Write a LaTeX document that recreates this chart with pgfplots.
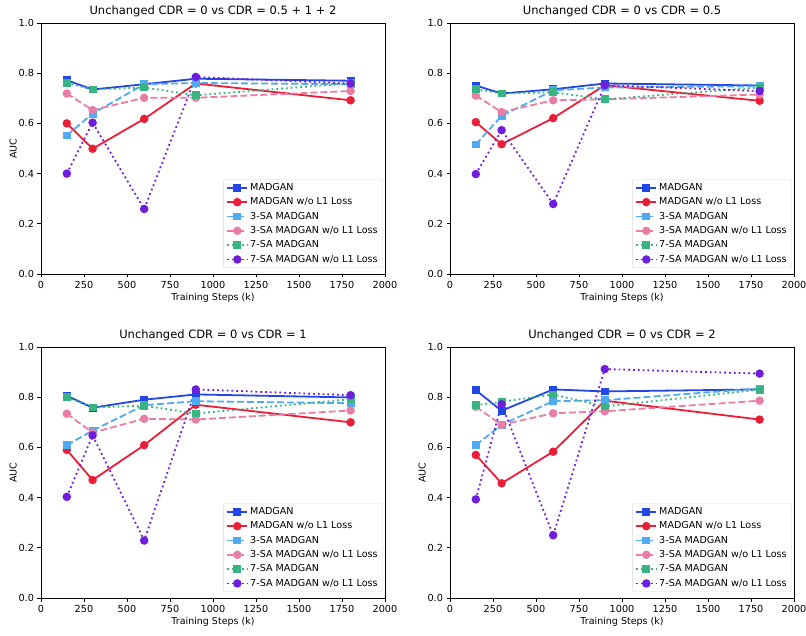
\documentclass[border=0pt]{standalone}
\usepackage{fontspec}
\setmainfont{DejaVu Sans}
\usepackage{pgfplots}
\usepackage{pgfplotstable}
\pgfplotsset{compat=1.18}

\definecolor{cA}{RGB}{35,70,230}
\definecolor{cB}{RGB}{235,30,55}
\definecolor{cC}{RGB}{80,170,240}
\definecolor{cD}{RGB}{232,125,165}
\definecolor{cE}{RGB}{55,180,130}
\definecolor{cF}{RGB}{110,30,220}

\pgfplotstableread{
x a b c d e f
150 0.772 0.600 0.552 0.719 0.761 0.400
300 0.735 0.499 0.639 0.653 0.735 0.603
600 0.756 0.618 0.756 0.702 0.743 0.259
900 0.778 0.759 0.761 0.702 0.712 0.785
1800 0.770 0.692 0.756 0.729 0.760 0.759
}\tA
\pgfplotstableread{
x a b c d e f
150 0.751 0.605 0.516 0.711 0.737 0.398
300 0.719 0.517 0.630 0.645 0.719 0.573
600 0.736 0.621 0.732 0.692 0.724 0.279
900 0.759 0.752 0.743 0.696 0.696 0.752
1800 0.751 0.690 0.748 0.715 0.743 0.729
}\tB
\pgfplotstableread{
x a b c d e f
150 0.806 0.590 0.609 0.734 0.800 0.403
300 0.758 0.470 0.667 0.659 0.759 0.648
600 0.790 0.609 0.768 0.714 0.766 0.229
900 0.811 0.770 0.784 0.711 0.735 0.831
1800 0.799 0.700 0.776 0.747 0.792 0.808
}\tC
\pgfplotstableread{
x a b c d e f
150 0.828 0.570 0.609 0.762 0.768 0.393
300 0.746 0.457 0.690 0.690 0.782 0.772
600 0.831 0.583 0.784 0.736 0.811 0.250
900 0.823 0.786 0.788 0.744 0.763 0.912
1800 0.831 0.711 0.835 0.786 0.830 0.894
}\tD

\pgfplotsset{
  mpl/.style={
    scale only axis, width=344pt, height=251pt,
    xmin=0, xmax=2000, ymin=0, ymax=1,
    xtick={0,250,...,2000}, ytick={0,0.2,...,1.0},
    yticklabel style={/pgf/number format/.cd, fixed, fixed zerofill, precision=1},
    xticklabel style={/pgf/number format/.cd, set thousands separator={}},
    /pgf/number format/assume math mode=true,
    tick align=outside, tick pos=left, major tick length=3.5pt,
    tick style={black, line width=0.7pt},
    axis line style={black, line width=0.7pt},
    ticklabel style={font=\fontsize{9.7}{11}\selectfont},
    title style={font=\fontsize{11.5}{13}\selectfont, yshift=-3pt},
    label style={font=\fontsize{9.5}{11}\selectfont},
    xlabel={Training Steps (k)},
    xlabel style={yshift=2pt},
    ylabel style={yshift=-5pt},
    legend style={at={(rel axis cs:0.994,0.024)}, anchor=south east,
      draw=black!15, rounded corners=2pt, fill=white,
      font=\fontsize{9.6}{11}\selectfont, inner xsep=3pt, inner ysep=2pt,
      row sep=1.7pt, cells={anchor=west}},
    every axis plot/.append style={line width=1.8pt, mark size=3.3pt,
      legend image code/.code={\draw[mark repeat=2,mark phase=2,##1] plot coordinates {(0pt,0pt) (10pt,0pt) (20pt,0pt)};}},
  },
  sA/.style={cA, solid, mark=square*, mark options={solid, fill=cA}, mark size=3pt},
  sB/.style={cB, solid, mark=*, mark options={solid, fill=cB}},
  sC/.style={cC, dashed, dash pattern=on 7pt off 3pt, mark=square*, mark options={solid, fill=cC}, mark size=3pt},
  sD/.style={cD, dashed, dash pattern=on 7pt off 3pt, mark=*, mark options={solid, fill=cD}},
  sE/.style={cE, dotted, dash pattern=on 1.8pt off 3pt, mark=square*, mark options={solid, fill=cE}, mark size=3pt},
  sF/.style={cF, dotted, dash pattern=on 1.8pt off 3pt, mark=*, mark options={solid, fill=cF}},
}

\newcommand{\allplots}[1]{%
  \addplot[sA] table[x=x,y=a]{#1};
  \addplot[sB] table[x=x,y=b]{#1};
  \addplot[sC] table[x=x,y=c]{#1};
  \addplot[sD] table[x=x,y=d]{#1};
  \addplot[sE] table[x=x,y=e]{#1};
  \addplot[sF] table[x=x,y=f]{#1};
  \legend{MADGAN, MADGAN w/o L1 Loss, 3-SA MADGAN, 3-SA MADGAN w/o L1 Loss, 7-SA MADGAN, 7-SA MADGAN w/o L1 Loss}
}

\begin{document}
\begin{tikzpicture}
\useasboundingbox (0pt,0pt) rectangle (806pt,635pt);
\begin{axis}[mpl, at={(41pt,361pt)}, anchor=south west,
  title={Unchanged CDR = 0 vs CDR = 0.5 + 1 + 2}, ylabel={AUC}]
\allplots{\tA}
\end{axis}
\begin{axis}[mpl, at={(450pt,361pt)}, anchor=south west,
  title={Unchanged CDR = 0 vs CDR = 0.5}]
\allplots{\tB}
\end{axis}
\begin{axis}[mpl, at={(41pt,37pt)}, anchor=south west,
  title={Unchanged CDR = 0 vs CDR = 1}, ylabel={AUC}]
\allplots{\tC}
\end{axis}
\begin{axis}[mpl, at={(450pt,37pt)}, anchor=south west,
  title={Unchanged CDR = 0 vs CDR = 2}, ylabel={AUC}]
\allplots{\tD}
\end{axis}
\end{tikzpicture}
\end{document}
